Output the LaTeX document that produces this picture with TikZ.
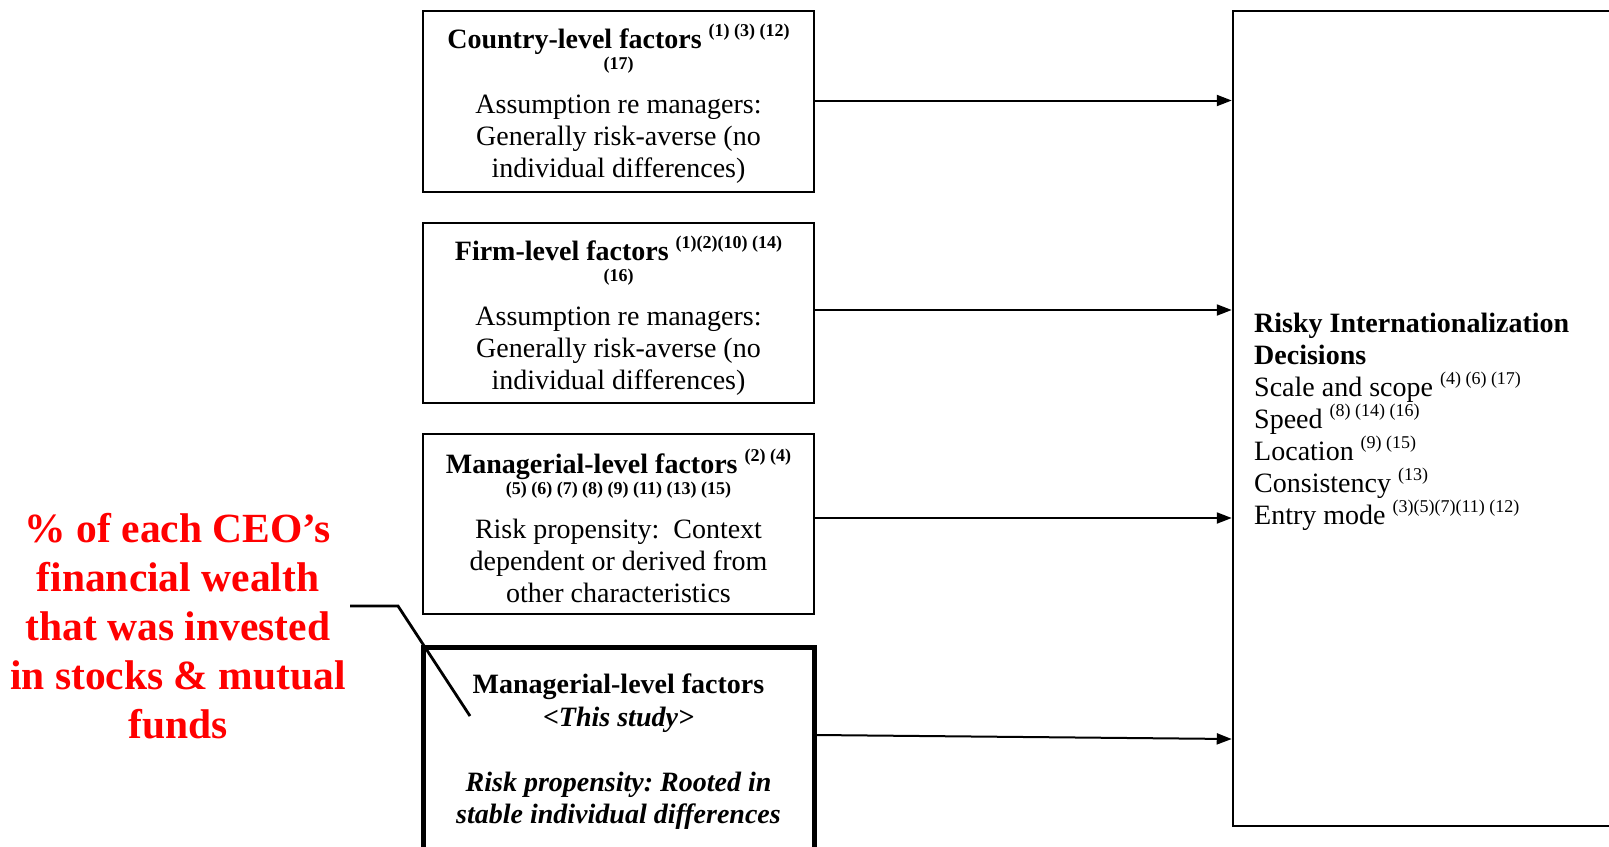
\documentclass[tikz,border=0pt]{standalone}
\usepackage{fontspec}
\setmainfont{Liberation Serif}
\usetikzlibrary{arrows.meta}
\frenchspacing
% raised reference numbers after a heading or item
\newcommand\supref[1]{\raisebox{12pt}{\fontsize{18}{18}\selectfont #1}}
% reference numbers wrapped onto their own line
\newcommand\refline[1]{{\fontsize{18}{18}\selectfont #1}}
% extra room above the first line of a box
\newcommand\topstrut{\rule{0pt}{29pt}}
\begin{document}
\begin{tikzpicture}[x=1pt,y=-1pt,
  factor/.style={draw, line width=2.2pt, minimum width=391pt, inner sep=0pt,
    align=center, font=\fontsize{28}{32}\selectfont},
  studybox/.style={factor, line width=5pt},
  outcome/.style={draw, line width=2.5pt, minimum width=420pt, minimum height=815pt},
  conn/.style={line width=2pt, -{Triangle[length=15pt,width=11pt]}},
  note/.style={text=red, font=\fontsize{41.5}{49}\selectfont\bfseries, align=center, inner sep=0pt},
  leader/.style={line width=2.8pt}]
\fill[white] (0,0) rectangle (1609,846);
\useasboundingbox (0,0) rectangle (1609,846);

% factor boxes
\node[factor, minimum height=181pt] (country) at (618.5,101.5)
  {\topstrut\textbf{Country-level factors \supref{(1) (3) (12)}}\\[-11pt]
   \refline{\textbf{(17)}}\\[12pt]
   Assumption re managers:\\Generally risk-averse (no\\individual differences)};

\node[factor, minimum height=180pt] (firm) at (618.5,313)
  {\topstrut\textbf{Firm-level factors \supref{(1)(2)(10) (14)}}\\[-11pt]
   \refline{\textbf{(16)}}\\[12pt]
   Assumption re managers:\\Generally risk-averse (no\\individual differences)};

\node[factor, minimum height=180pt] (manager) at (618.5,524)
  {\topstrut\textbf{Managerial-level factors \supref{(2) (4)}}\\[-11pt]
   \refline{\textbf{(5) (6) (7) (8) (9) (11) (13) (15)}}\\[12pt]
   Risk propensity:\ \ Context\\dependent or derived from\\other characteristics};

\node[studybox, minimum height=205pt] (study) at (618.5,749.5)
  {\rule{0pt}{24pt}\textbf{Managerial-level factors}\\[1pt]
   \textbf{\textit{<This study>}}\\[1pt]
   \\
   \textbf{\textit{Risk propensity: Rooted in}}\\
   \textbf{\textit{stable individual differences}}};

% outcome box
\node[outcome] (dec) at (1443,418.5) {};
\node[anchor=north west, inner sep=0pt, align=left, font=\fontsize{28}{32}\selectfont] (dectext) at (1254,313)
  {\textbf{Risky Internationalization}\\
   \textbf{Decisions}\\
   Scale and scope \supref{(4) (6) (17)}\\
   Speed \supref{(8) (14) (16)}\\
   Location \supref{(9) (15)}\\
   Consistency \supref{(13)}\\
   Entry mode \supref{(3)(5)(7)(11) (12)}};

% connectors
\draw[conn] ([yshift=1pt]country.east) -- ([yshift=1pt]country.east -| dec.west);
\draw[conn] ([yshift=3pt]firm.east) -- ([yshift=3pt]firm.east -| dec.west);
\draw[conn] ([yshift=6pt]manager.east) -- ([yshift=6pt]manager.east -| dec.west);
\draw[conn] ([yshift=14.5pt]study.east) -- ([yshift=10.5pt]study.east -| dec.west);

% measure annotation
\node[note] (wealth) at (178,626)
  {\% of each CEO’s\\financial wealth\\that was invested\\in stocks \& mutual\\funds};
\coordinate (lead1) at (350,606);
\coordinate (lead2) at (398,606);
\coordinate (lead3) at (470,716);
\draw[leader] (lead1) -- (lead2) -- (lead3);
\end{tikzpicture}
\end{document}
